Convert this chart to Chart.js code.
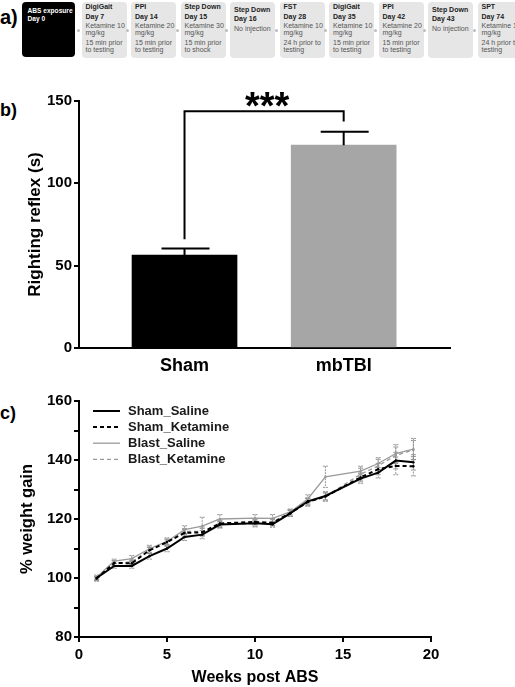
<!DOCTYPE html>
<html><head><meta charset="utf-8">
<script src="https://cdn.jsdelivr.net/npm/chart.js@4.4.1/dist/chart.umd.min.js"></script>
<style>
html,body{margin:0;padding:0;background:#fff;width:515px;height:687px;overflow:hidden;font-family:"Liberation Sans",Arial,sans-serif;}
#wrap{position:relative;width:515px;height:687px;}
.plabel{position:absolute;left:0;font-weight:bold;color:#000;font-size:18px;line-height:20px;}
.box{position:absolute;top:2px;height:56px;width:45px;background:#e6e6e6;border-radius:4px;overflow:hidden;}
.box.black{background:#000;}
.ln{position:absolute;left:4px;width:41px;white-space:normal;}
.t{font-weight:bold;font-size:7px;line-height:8px;color:#222;white-space:nowrap;}
.black .t{color:#fff;font-size:6.6px;}
.b{font-size:7px;line-height:6.8px;color:#555;}
.dot{position:absolute;top:29px;width:3px;height:3px;border-radius:50%;background:#bdbdbd;}
canvas{position:absolute;left:0;}
</style></head>
<body><div id="wrap">
<div class="plabel" style="top:7px;font-size:20px;">a)</div>
<div class="plabel" style="top:100px;">b)</div>
<div class="plabel" style="top:403px;">c)</div>
<div id="timeline"></div>
<canvas id="cb" width="515" height="290" style="top:85px"></canvas>
<canvas id="cc" width="515" height="312" style="top:375px"></canvas>
</div>
<script>
// ---------- Panel a: timeline ----------
const startLabel = 'ABS exposure';
const startDay = 'Day 0';
const tests = ['DigiGait','PPI','Step Down','Step Down','FST','DigiGait','PPI','Step Down','SPT'];
const testDays = [7,14,15,16,28,35,42,43,74];
const doses = ['Ketamine 10 mg/kg','Ketamine 20 mg/kg','Ketamine 30 mg/kg','No injection','Ketamine 10 mg/kg','Ketamine 10 mg/kg','Ketamine 20 mg/kg','No injection','Ketamine 10 mg/kg'];
const timings = ['15 min prior to testing','15 min prior to testing','15 min prior to shock','','24 h prior to testing','15 min prior to testing','15 min prior to testing','','24 h prior to testing'];

// ---------- Panel b: righting reflex ----------
const groups = ['Sham','mbTBI'];
const righting = [56.5, 123.2];
const rightingErr = [4.0, 8.1];
const barColors = ['#000000','#a6a6a6'];
const sigText = '***';
const sigBracket = [66, 143.7, 137.6]; // left foot, top, right foot (in s)

// ---------- Panel c: weight gain ----------
const weeks = [1,2,3,4,5,6,7,8,10,11,12,13,14,16,17,18,19];
const seriesNames = ['Sham_Saline','Sham_Ketamine','Blast_Saline','Blast_Ketamine'];
const shamSaline    = [100.0,104.1,104.1,107.4,110.0,113.9,114.7,118.1,118.6,118.2,121.9,126.0,127.8,133.7,135.7,139.8,139.2];
const shamKetamine  = [ 99.8,105.1,105.0,109.4,112.2,115.3,115.5,118.5,119.0,118.7,122.0,125.8,127.6,134.1,136.9,138.0,137.9];
const blastSaline   = [100.3,105.7,106.6,109.9,112.4,116.4,117.6,120.0,120.3,120.2,122.4,126.8,134.3,136.2,138.8,142.2,143.7];
const blastKetamine = [ 99.6,105.0,105.5,109.4,111.8,115.8,115.8,118.1,118.5,119.0,122.0,125.6,127.6,135.2,138.0,141.6,143.4];
const shamSalineErr    = [0.6,0.8,0.8,1.0,1.1,1.2,1.4,1.0,1.0,1.0,1.0,1.2,1.4,1.6,1.8,2.8,2.6];
const shamKetamineErr  = [0.6,0.8,0.9,1.0,1.0,1.1,1.3,1.1,1.0,1.1,1.0,1.1,1.2,1.5,1.9,3.0,3.3];
const blastSalineErr   = [0.7,0.7,1.0,1.2,1.2,1.3,3.0,1.5,1.2,1.3,1.0,1.4,3.6,1.7,2.0,3.0,3.6];
const blastKetamineErr = [0.7,0.8,0.9,1.1,1.1,1.0,1.5,1.2,1.2,1.2,1.1,1.3,1.6,2.0,2.2,2.8,3.2];

// ===== build timeline =====
(function(){
  const tl = document.getElementById('timeline');
  function add(el){tl.appendChild(el);return el;}
  function line(parent,cls,text,top){const d=document.createElement('div');d.className='ln '+cls;d.style.top=top+'px';d.textContent=text;parent.appendChild(d);return d;}
  const b0 = add(document.createElement('div'));
  b0.className='box black'; b0.style.left='22px'; b0.style.width='53px'; b0.style.height='55px';
  const l1=line(b0,'t',startLabel,4.7); l1.style.left='5.5px'; l1.style.width='48px';
  const l2=line(b0,'t',startDay,13.3); l2.style.left='5.5px';
  const x0=81.5, step=49.5;
  tests.forEach((name,i)=>{
    const left = x0 + step*i;
    const dot = add(document.createElement('div'));
    dot.className='dot'; dot.style.left=(left-5)+'px';
    const bx = add(document.createElement('div'));
    bx.className='box'; bx.style.left=left+'px';
    if (timings[i]) {
      line(bx,'t',name,1.3);
      line(bx,'t','Day '+testDays[i],10.7);
      line(bx,'b',doses[i],21.3);
      line(bx,'b',timings[i],38.2);
    } else {
      line(bx,'t',name,4);
      line(bx,'t','Day '+testDays[i],13.3);
      line(bx,'b',doses[i],23.9);
    }
  });
})();

const FONT = "'Liberation Sans', Arial, sans-serif";
Chart.defaults.font.family = FONT;
Chart.defaults.color = '#000';

// ===== Panel b =====
const errPluginB = {
  id:'errB',
  afterDatasetsDraw(chart){
    const {ctx, scales:{x,y}} = chart;
    ctx.save();
    ctx.strokeStyle='#000'; ctx.lineWidth=2;
    groups.forEach((g,i)=>{
      const px = x.getPixelForValue(i+1);
      const top = y.getPixelForValue(righting[i]+rightingErr[i]);
      const base = y.getPixelForValue(righting[i]);
      ctx.beginPath(); ctx.moveTo(px,base); ctx.lineTo(px,top);
      ctx.moveTo(px-23,top); ctx.lineTo(px+25,top); ctx.stroke();
    });
    // significance bracket
    const xl = x.getPixelForValue(1), xr = x.getPixelForValue(2);
    const yl = y.getPixelForValue(sigBracket[0]), yt = y.getPixelForValue(sigBracket[1]), yr = y.getPixelForValue(sigBracket[2]);
    ctx.beginPath(); ctx.moveTo(xl,yl); ctx.lineTo(xl,yt); ctx.lineTo(xr,yt); ctx.lineTo(xr,yr); ctx.stroke();
    ctx.fillStyle='#000'; ctx.font='bold 38px '+FONT; ctx.textAlign='center'; ctx.textBaseline='alphabetic';
    ctx.fillText(sigText,(xl+xr)/2+3,yt+8);
    ctx.restore();
  }
};
new Chart(document.getElementById('cb'),{
  type:'bar',
  data:{datasets:[{
    data: groups.map((g,i)=>({x:i+1,y:righting[i]})),
    backgroundColor: barColors, borderWidth:0, barThickness:105, grouped:false
  }]},
  options:{
    responsive:false, animation:false, events:[],
    layout:{padding:{top:16,right:65,left:0,bottom:0}},
    plugins:{legend:{display:false},tooltip:{enabled:false}},
    scales:{
      x:{type:'linear',min:0.337,max:2.668,offset:false,
        afterFit:s=>{s.height=27;},
        afterBuildTicks:s=>{s.ticks=groups.map((g,i)=>({value:i+1}));},
        ticks:{callback:(v)=>groups[Math.round(v)-1]||'',font:{size:18,weight:'bold'},color:'#000',padding:7,maxRotation:0,autoSkip:false},
        grid:{display:false,drawTicks:false,offset:false},
        border:{display:true,color:'#000',width:2}
      },
      y:{min:0,max:150,
        afterFit:s=>{s.width=79;},
        ticks:{stepSize:50,font:{size:15,weight:'bold'},color:'#000',padding:2},
        grid:{drawOnChartArea:false,drawTicks:true,tickLength:5,color:'#000',lineWidth:2},
        border:{display:true,color:'#000',width:2},
        title:{display:true,text:'Righting reflex (s)',font:{size:17,weight:'bold'},color:'#000',padding:{top:25,bottom:0}}
      }
    }
  },
  plugins:[errPluginB]
});

// ===== Panel c =====
const seriesVals = [shamSaline, shamKetamine, blastSaline, blastKetamine];
const seriesErrs = [shamSalineErr, shamKetamineErr, blastSalineErr, blastKetamineErr];
const seriesColors = ['#000000','#000000','#9a9a9a','#9a9a9a'];
const seriesDash = [[],[4,3],[],[4,3]];
const seriesWidth = [2,2,1.3,1.3];

const errPluginC = {
  id:'errC',
  beforeDatasetsDraw(chart){
    const {ctx, scales:{x,y}} = chart;
    ctx.save();
    ctx.strokeStyle='#8a8a8a'; ctx.lineWidth=0.9; ctx.setLineDash([2,1]);
    seriesVals.forEach((vals,si)=>{
      vals.forEach((v,i)=>{
        const px = x.getPixelForValue(weeks[i]);
        const t = y.getPixelForValue(v+seriesErrs[si][i]);
        const b = y.getPixelForValue(v-seriesErrs[si][i]);
        ctx.beginPath(); ctx.moveTo(px,t); ctx.lineTo(px,b);
        ctx.moveTo(px-2.5,t); ctx.lineTo(px+2.5,t);
        ctx.moveTo(px-2.5,b); ctx.lineTo(px+2.5,b); ctx.stroke();
      });
    });
    ctx.restore();
  },
  afterDraw(chart){
    const {ctx, chartArea} = chart;
    ctx.save();
    const lx = chartArea.left+14, ly = chartArea.top+10;
    chart.data.datasets.forEach((ds,i)=>{
      const yy = ly + i*16.1;
      ctx.strokeStyle = ds.borderColor; ctx.lineWidth = ds.borderWidth; ctx.setLineDash(ds.borderDash||[]);
      ctx.beginPath(); ctx.moveTo(lx,yy); ctx.lineTo(lx+27,yy); ctx.stroke();
      ctx.setLineDash([]);
      ctx.fillStyle='#1a1a1a'; ctx.font='bold 13px '+FONT; ctx.textAlign='left'; ctx.textBaseline='middle';
      ctx.fillText(ds.label, lx+35, yy+0.5);
    });
    ctx.restore();
  }
};
new Chart(document.getElementById('cc'),{
  type:'line',
  data:{datasets: seriesNames.map((n,si)=>({
    label:n,
    data: weeks.map((w,i)=>({x:w,y:seriesVals[si][i]})),
    borderColor: seriesColors[si], backgroundColor: seriesColors[si],
    borderDash: seriesDash[si], borderWidth: seriesWidth[si],
    pointRadius:1.2, pointBorderWidth:0, tension:0, fill:false
  }))},
  options:{
    responsive:false, animation:false, events:[],
    layout:{padding:{top:26,right:84,left:0,bottom:0}},
    plugins:{legend:{display:false},tooltip:{enabled:false}},
    scales:{
      x:{type:'linear',min:0,max:20,
        afterFit:s=>{s.height=50;},
        ticks:{stepSize:5,font:{size:15,weight:'bold'},color:'#000',padding:4,maxRotation:0},
        grid:{drawOnChartArea:false,drawTicks:true,tickLength:5,color:'#000',lineWidth:2},
        border:{display:true,color:'#000',width:2},
        title:{display:true,text:'Weeks post ABS',font:{size:16,weight:'bold'},color:'#000',padding:{top:0,bottom:0}}
      },
      y:{min:80,max:160,
        afterFit:s=>{s.width=79;},
        ticks:{stepSize:10,font:{size:15,weight:'bold'},color:'#000',padding:2,
          callback:(v)=> (v%20===0? String(v) : '')},
        grid:{drawOnChartArea:false,drawTicks:true,tickLength:5,color:'#000',lineWidth:2},
        border:{display:true,color:'#000',width:2},
        title:{display:true,text:'% weight gain',font:{size:16.5,weight:'bold'},color:'#000',padding:{top:18,bottom:0}}
      }
    }
  },
  plugins:[errPluginC]
});
</script>
</body></html>
